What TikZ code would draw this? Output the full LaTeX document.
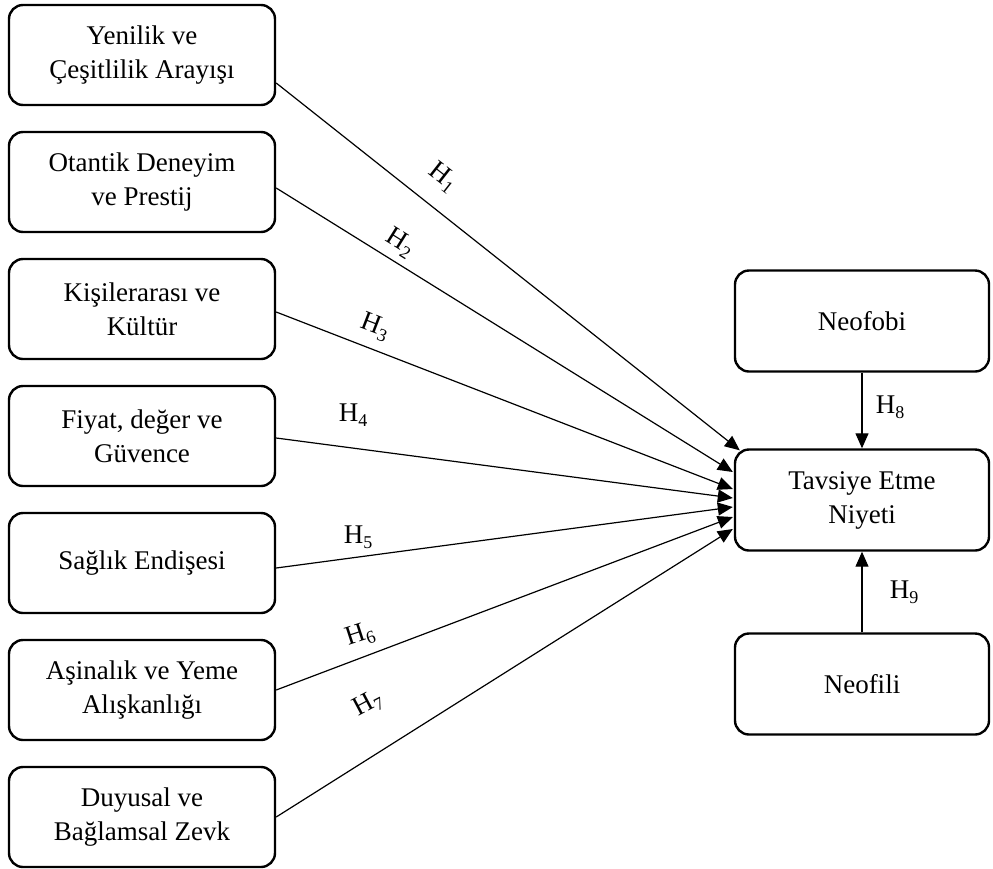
\documentclass[tikz,border=0pt]{standalone}
\usepackage{fontspec}
\setmainfont{Liberation Serif}
\usetikzlibrary{arrows.meta,calc}
\newcommand{\hyp}[1]{H\raisebox{-5pt}{\fontsize{18}{18}\selectfont #1}}
\begin{document}
\begin{tikzpicture}[x=1pt,y=-1pt,
 box/.style={draw,line width=2.4pt,rounded corners=14pt,minimum width=266pt,minimum height=100pt,inner sep=0pt,align=center,font=\fontsize{27}{34}\selectfont},
 rbox/.style={box,minimum width=254pt,minimum height=101pt},
 conn/.style={line width=1.2pt,-{Triangle[length=15pt,width=13pt]}},
 hl/.style={font=\fontsize{27}{32}\selectfont,inner sep=0pt}]
\useasboundingbox (0,0) rectangle (993,868);
\node[box] (b1) at (142,55) {Yenilik ve\\Çeşitlilik Arayışı};
\node[box] (b2) at (142,182) {Otantik Deneyim\\ve Prestij};
\node[box] (b3) at (142,309) {Kişilerarası ve\\Kültür};
\node[box] (b4) at (142,436) {Fiyat, değer ve\\Güvence};
\node[box] (b5) at (142,563) {Sağlık Endişesi};
\node[box] (b6) at (142,690) {Aşinalık ve Yeme\\Alışkanlığı};
\node[box] (b7) at (142,817) {Duyusal ve\\Bağlamsal Zevk};
\node[rbox] (neofobi) at (862,321) {Neofobi};
\node[rbox] (tav) at (862,500) {Tavsiye Etme\\Niyeti};
\node[rbox] (neofili) at (862,684) {Neofili};
% start points
\coordinate (s1) at ($(b1.east)+(0,28)$);
\coordinate (s2) at ($(b2.east)+(0,6)$);
\coordinate (s3) at ($(b3.east)+(0,3)$);
\coordinate (s4) at ($(b4.east)+(0,2)$);
\coordinate (s5) at ($(b5.east)+(0,5)$);
\coordinate (s6) at ($(b6.east)+(0,0)$);
\coordinate (s7) at ($(b7.east)+(0,0)$);
% tips
\coordinate (t1) at ($(tav.north west)+(6,2)$);
\coordinate (t2) at ($(tav.west)+(-1,-28)$);
\coordinate (t3) at ($(tav.west)+(-1,-11)$);
\coordinate (t4) at ($(tav.west)+(-1,-2)$);
\coordinate (t5) at ($(tav.west)+(-1,7)$);
\coordinate (t6) at ($(tav.west)+(-1,17)$);
\coordinate (t7) at ($(tav.west)+(-1,29)$);
\foreach \i in {1,...,7}{\draw[conn] (s\i) -- (t\i);}
\draw[conn] (neofobi) -- (tav);
\draw[conn] (neofili) -- (tav);
% labels
\node[hl,rotate=-38] (h1) at (443,177) {\hyp{1}};
\node[hl,rotate=-32] (h2) at (400,243) {\hyp{2}};
\node[hl,rotate=-21] (h3) at (375,327) {\hyp{3}};
\node[hl] (h4) at (353,415) {\hyp{4}};
\node[hl] (h5) at (358,537) {\hyp{5}};
\node[hl,rotate=18] (h6) at (360,635) {\hyp{6}};
\node[hl,rotate=28] (h7) at (368,704) {\hyp{7}};
\node[hl] (h8) at (890,407) {\hyp{8}};
\node[hl] (h9) at (904,592) {\hyp{9}};
\end{tikzpicture}
\end{document}
